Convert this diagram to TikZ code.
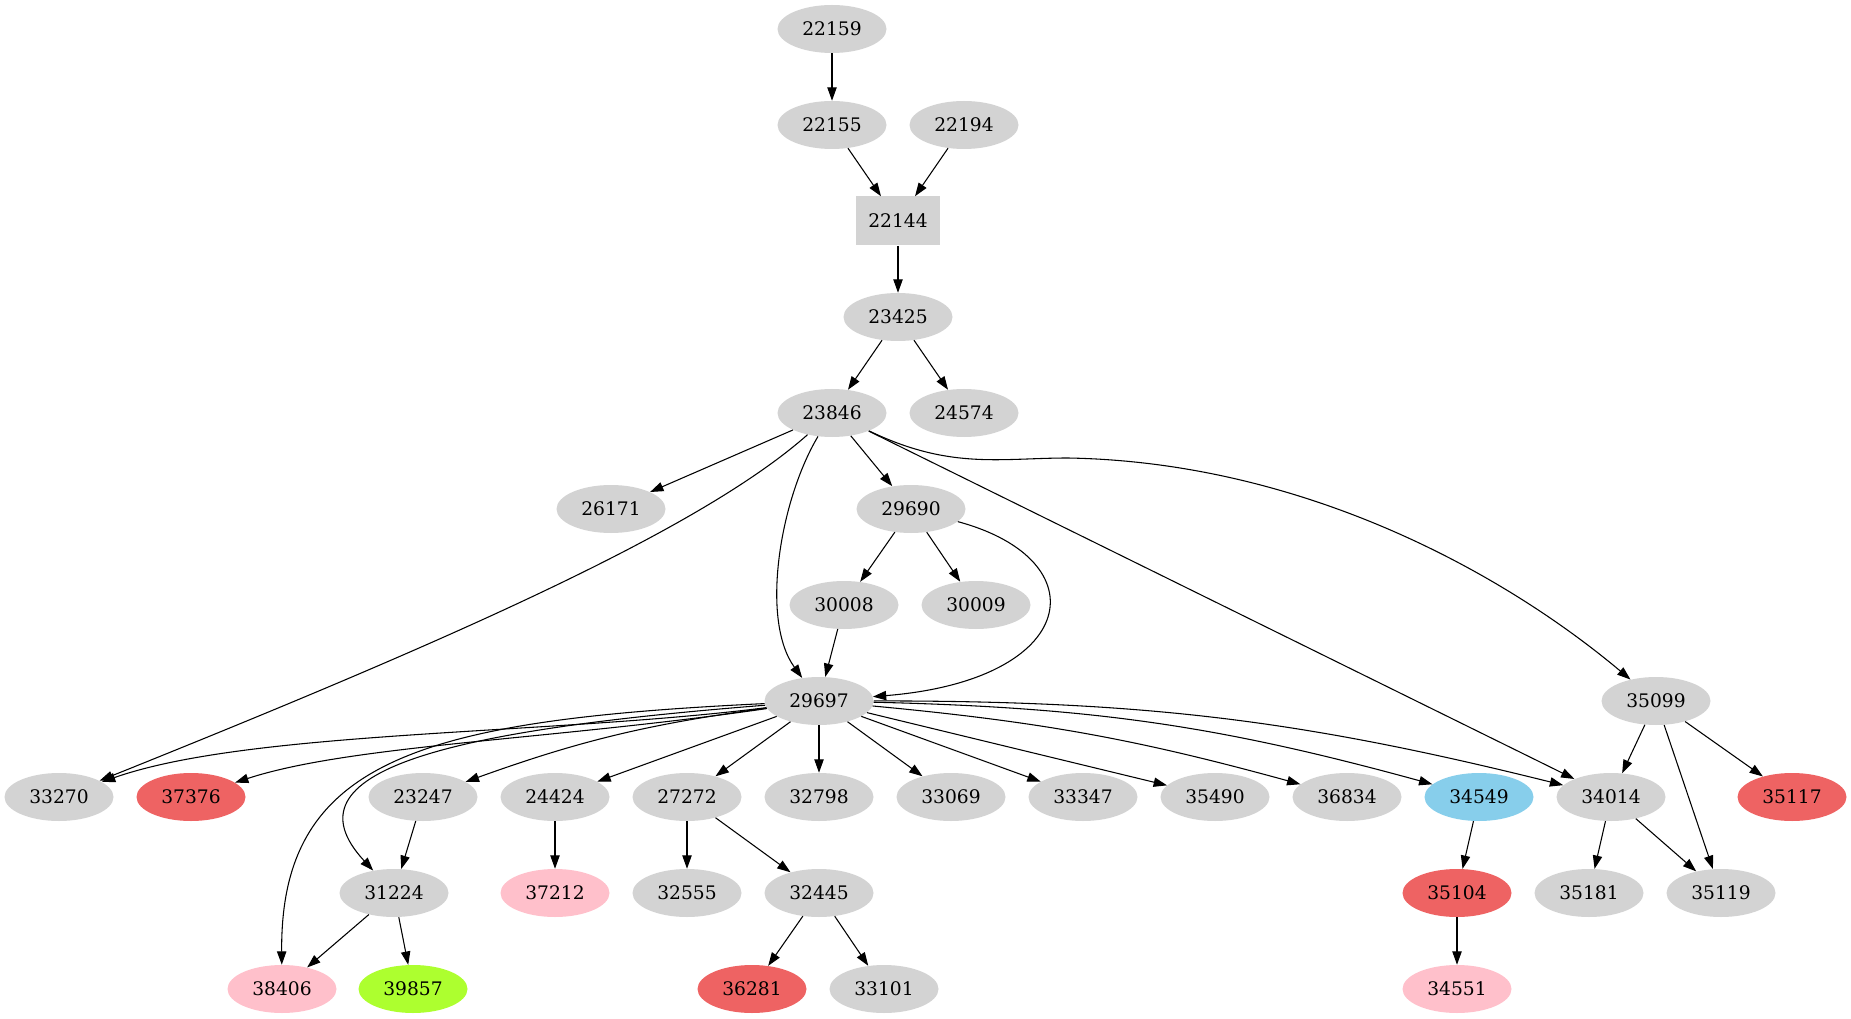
\documentclass[tikz,border=0pt]{standalone}
\usepackage{fontspec}
\setmainfont{DejaVu Serif}
\usetikzlibrary{shapes.geometric, arrows.meta}
\definecolor{lgray}{RGB}{211,211,211}
\definecolor{ired}{RGB}{238,99,99}
\definecolor{lpink}{RGB}{255,192,203}
\definecolor{gyellow}{RGB}{173,255,47}
\definecolor{sblue}{RGB}{135,206,235}
\tikzset{
	vert/.style={ellipse, fill=lgray, minimum width=81.75pt, minimum height=36pt, inner sep=0pt, font=\fontsize{14}{17}\selectfont},
	boxnode/.style={rectangle, fill=lgray, minimum width=63pt, minimum height=36.75pt, inner sep=0pt, font=\fontsize{14}{17}\selectfont},
	arr/.style={-{Triangle[length=10pt,width=7pt]}, line width=0.8pt}
}

\begin{document}
\begin{tikzpicture}[x=0.75pt, y=-0.75pt]
	\useasboundingbox (0,0) rectangle (1851,1019);

	% top chain
	\node[vert] (n22159) at (832,29) {22159};
	\node[vert] (n22155) at (832,125) {22155};
	\node[vert] (n22194) at (964,125) {22194};
	\node[boxnode] (n22144) at (898,221) {22144};
	\node[vert] (n23425) at (898,317) {23425};
	\node[vert] (n23846) at (832,413) {23846};
	\node[vert] (n24574) at (964,413) {24574};
	\node[vert] (n26171) at (611,509) {26171};
	\node[vert] (n29690) at (911,509) {29690};
	\node[vert] (n30008) at (844,605) {30008};
	\node[vert] (n30009) at (976,605) {30009};
	\node[vert] (n29697) at (819,701) {29697};
	\node[vert] (n35099) at (1656,701) {35099};

	% row under 29697
	\node[vert] (n33270) at (59,797) {33270};
	\node[vert, fill=ired] (n37376) at (191,797) {37376};
	\node[vert] (n23247) at (423,797) {23247};
	\node[vert] (n24424) at (555,797) {24424};
	\node[vert] (n27272) at (687,797) {27272};
	\node[vert] (n32798) at (819,797) {32798};
	\node[vert] (n33069) at (951,797) {33069};
	\node[vert] (n33347) at (1083,797) {33347};
	\node[vert] (n35490) at (1215,797) {35490};
	\node[vert] (n36834) at (1347,797) {36834};
	\node[vert, fill=sblue] (n34549) at (1479,797) {34549};
	\node[vert] (n34014) at (1611,797) {34014};
	\node[vert, fill=ired] (n35117) at (1792,797) {35117};

	\node[vert] (n31224) at (394,893) {31224};
	\node[vert, fill=lpink] (n37212) at (555,893) {37212};
	\node[vert] (n32555) at (687,893) {32555};
	\node[vert] (n32445) at (819,893) {32445};
	\node[vert, fill=ired] (n35104) at (1457,893) {35104};
	\node[vert] (n35181) at (1589,893) {35181};
	\node[vert] (n35119) at (1721,893) {35119};

	\node[vert, fill=lpink] (n38406) at (282,989) {38406};
	\node[vert, fill=gyellow] (n39857) at (413,989) {39857};
	\node[vert, fill=ired] (n36281) at (752,989) {36281};
	\node[vert] (n33101) at (884,989) {33101};
	\node[vert, fill=lpink] (n34551) at (1457,989) {34551};

	% edges
	\draw[arr] (n22159) -- (n22155);
	\draw[arr] (n22155) -- (n22144);
	\draw[arr] (n22194) -- (n22144);
	\draw[arr] (n22144) -- (n23425);
	\draw[arr] (n23425) -- (n23846);
	\draw[arr] (n23425) -- (n24574);
	\draw[arr] (n23846) -- (n26171);
	\draw[arr] (n23846) -- (n29690);
	\draw[arr] (n23846) .. controls (780,500) and (760,620) .. (n29697);
	\draw[arr] (n23846) .. controls (700,530) and (450,640) .. (n33270);
	\draw[arr] (n23846) -- (n34014);
	\draw[arr] (n23846) .. controls (950,470) and (1000,458) .. (1068,458) .. controls (1300,462) and (1500,570) .. (n35099);
	\draw[arr] (n29690) -- (n30008);
	\draw[arr] (n29690) -- (n30009);
	\draw[arr] (n29690) .. controls (1100,560) and (1080,680) .. (n29697);
	\draw[arr] (n30008) -- (n29697);

	\draw[arr] (n29697) .. controls (550,735) and (250,730) .. (n33270);
	\draw[arr] (n29697) .. controls (550,740) and (350,745) .. (n37376);
	\draw[arr] (n29697) .. controls (420,720) and (280,760) .. (n38406);
	\draw[arr] (n29697) .. controls (450,730) and (280,770) .. (n31224);
	\draw[arr] (n29697) to[bend right=6] (n23247);
	\draw[arr] (n29697) -- (n24424);
	\draw[arr] (n29697) -- (n27272);
	\draw[arr] (n29697) -- (n32798);
	\draw[arr] (n29697) -- (n33069);
	\draw[arr] (n29697) -- (n33347);
	\draw[arr] (n29697) -- (n35490);
	\draw[arr] (n29697) to[bend left=5] (n36834);
	\draw[arr] (n29697) to[bend left=7] (n34549);
	\draw[arr] (n29697) to[bend left=7] (n34014);

	\draw[arr] (n23247) -- (n31224);
	\draw[arr] (n24424) -- (n37212);
	\draw[arr] (n27272) -- (n32555);
	\draw[arr] (n27272) -- (n32445);
	\draw[arr] (n32445) -- (n36281);
	\draw[arr] (n32445) -- (n33101);
	\draw[arr] (n31224) -- (n38406);
	\draw[arr] (n31224) -- (n39857);
	\draw[arr] (n34549) -- (n35104);
	\draw[arr] (n35104) -- (n34551);
	\draw[arr] (n35099) -- (n34014);
	\draw[arr] (n35099) -- (n35119);
	\draw[arr] (n35099) -- (n35117);
	\draw[arr] (n34014) -- (n35181);
	\draw[arr] (n34014) -- (n35119);
\end{tikzpicture}
\end{document}
